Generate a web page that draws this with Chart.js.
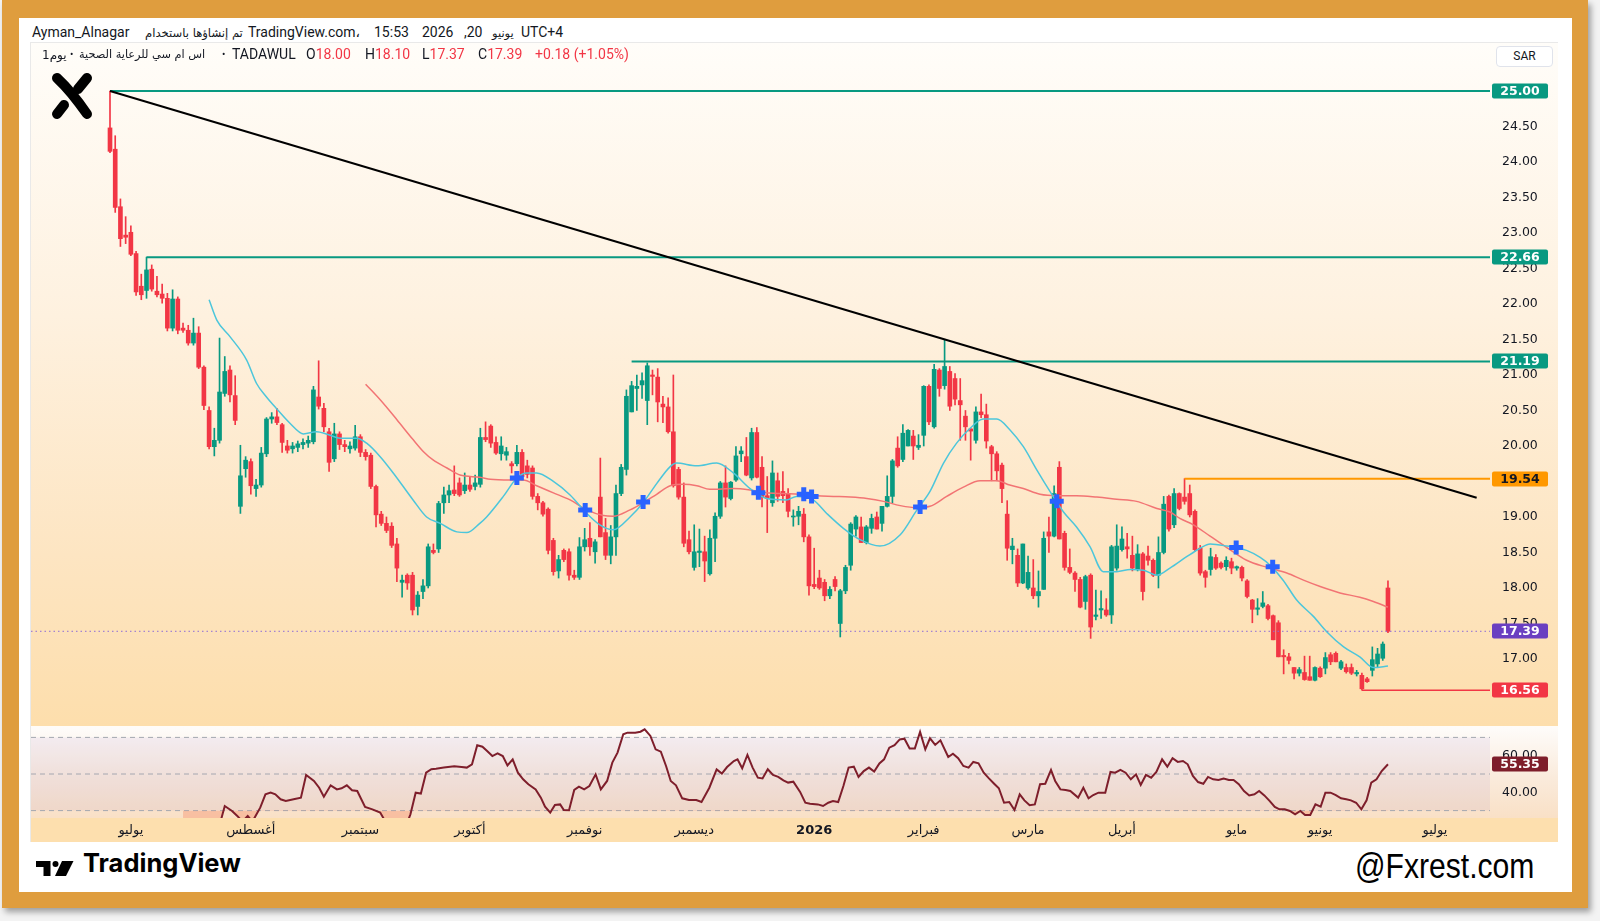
<!DOCTYPE html>
<html><head><meta charset="utf-8">
<script src="https://cdn.jsdelivr.net/npm/chart.js@4/dist/chart.umd.min.js"></script>
<style>
html,body{margin:0;padding:0;}
body{width:1600px;height:921px;position:relative;background:#f3f3f3;overflow:hidden;font-family:Roboto,'DejaVu Sans',sans-serif;color:#131722;}
#frame{position:absolute;left:2px;top:0;width:1586px;height:908px;background:#DF9D3E;box-shadow:3px 4px 6px rgba(0,0,0,0.35);}
#panel{position:absolute;left:19px;top:18px;width:1553px;height:874px;background:#fff;}
#box{position:absolute;left:30px;top:42px;width:1528px;height:800px;border:1px solid #E9E9E9;box-sizing:border-box;}
#mainWrap{position:absolute;left:31px;top:43px;width:1527px;height:683px;background:linear-gradient(180deg,#FFFDF9 0%,#FEF1DF 40%,#FDE5C2 75%,#FDDEAC 100%);}
#rsiWrap{position:absolute;left:31px;top:726px;width:1527px;height:116px;background:linear-gradient(180deg,#FEFCFA 0px,#FAEBDC 50px,#F9E0C6 91px,#FDDFAE 91px,#FDDFAE 116px);border-top:1px solid rgba(255,255,255,0.9);box-sizing:border-box;}
canvas{position:absolute;left:0;top:0;}
.t{position:absolute;white-space:nowrap;font-size:14px;line-height:16px;}
.ar{font-family:'DejaVu Sans',sans-serif;transform-origin:left center;}
.r{color:#F23645;}
#sar{position:absolute;left:1496px;top:46px;width:57px;height:21px;border:1px solid #E0E3EB;border-radius:4px;background:#fff;box-sizing:border-box;font-size:12px;line-height:19px;text-align:center;color:#131722;}
#tvtext{position:absolute;left:83px;top:848px;font-family:Inter,Roboto,sans-serif;font-weight:700;font-size:25.5px;line-height:30px;color:#000;}
#fx{position:absolute;left:1355px;top:846px;font-family:'Liberation Sans Narrow','Liberation Sans',sans-serif;font-size:35px;line-height:40px;color:#000;transform:scaleX(0.86);transform-origin:left center;}
</style></head>
<body>
<div id="frame"></div>
<div id="panel"></div>
<div id="box"></div>
<div id="mainWrap"><canvas id="main" width="1527" height="683"></canvas></div>
<div id="rsiWrap"><canvas id="rsi" width="1527" height="116"></canvas></div>

<!-- header line 1 -->
<div class="t" style="left:32px;top:24px;">Ayman_Alnagar</div>
<div class="t ar" style="left:145px;top:25px;font-size:11.6px;" dir="rtl">تم إنشاؤها باستخدام</div>
<div class="t" style="left:248px;top:24px;">TradingView.com،</div>
<div class="t" style="left:374px;top:24px;">15:53</div>
<div class="t" style="left:422px;top:24px;">2026</div>
<div class="t" style="left:464px;top:24px;">,20</div>
<div class="t ar" style="left:492px;top:25px;font-size:11.5px;" dir="rtl">يونيو</div>
<div class="t" style="left:521px;top:24px;">UTC+4</div>
<!-- header line 2 -->
<div class="t ar" style="left:42px;top:47px;font-size:12px;"><bdi dir="ltr">1يوم</bdi></div>
<div class="t" style="left:70px;top:47px;font-size:10px;">•</div>
<div class="t ar" style="left:79px;top:47px;font-size:11.3px;" dir="rtl">اس ام سي للرعاية الصحية</div>
<div class="t" style="left:222px;top:47px;font-size:10px;">•</div>
<div class="t" style="left:232px;top:46px;">TADAWUL</div>
<div class="t" style="left:306px;top:46px;">O<span class="r">18.00</span></div>
<div class="t" style="left:365px;top:46px;">H<span class="r">18.10</span></div>
<div class="t" style="left:422px;top:46px;">L<span class="r">17.37</span></div>
<div class="t" style="left:478px;top:46px;">C<span class="r">17.39</span></div>
<div class="t r" style="left:535px;top:46px;">+0.18 (+1.05%)</div>
<div id="sar">SAR</div>

<svg style="position:absolute;left:46px;top:68px;" width="54" height="56" viewBox="0 0 54 56">
  <g stroke="#000" stroke-width="10" stroke-linecap="round" fill="none">
    <path d="M11,10 Q25,23 41,46"/>
    <path d="M41,10 L32,21"/>
    <path d="M11,46 L18,37"/>
  </g>
</svg>

<svg style="position:absolute;left:36px;top:861px;" width="40" height="16" viewBox="0 0 40 16">
  <path d="M0,0 H14.5 V15 H7.5 V6 H0 Z" fill="#000"/>
  <circle cx="19.5" cy="3" r="3" fill="#000"/>
  <path d="M26,0 H37.5 L30,15 H19 Z" fill="#000"/>
</svg>
<div id="tvtext">TradingView</div>
<div id="fx">@Fxrest.com</div>

<script>
// ---------------- DATA ----------------
const opens = [24.48,24.18,23.37,22.97,23.01,22.71,22.25,22.19,22.49,22.18,
22.14,22.08,21.66,22.07,21.66,21.63,21.45,21.59,21.11,20.50,
19.99,20.08,20.74,21.07,20.71,19.15,19.68,19.78,19.40,19.45,
19.89,20.38,20.41,20.30,20.00,19.96,19.98,20.02,20.04,20.06,
20.69,20.53,20.20,19.82,20.17,20.02,19.96,19.97,20.13,19.91,
19.87,19.43,19.04,18.91,18.87,18.62,18.08,18.18,18.18,17.74,
17.95,18.03,18.53,18.55,19.20,19.31,19.38,19.48,19.37,19.45,
19.43,19.46,20.12,20.28,20.05,19.89,19.87,19.75,19.75,19.91,
19.72,19.69,19.29,19.20,19.11,18.67,18.24,18.53,18.51,18.18,
18.15,18.58,18.70,18.51,19.28,18.78,18.46,18.72,19.33,19.67,
20.48,20.81,20.86,20.64,21.00,20.97,20.59,20.55,20.20,19.67,
19.28,18.68,18.29,18.50,18.51,18.20,18.70,19.01,19.48,19.26,
19.52,19.89,19.85,19.55,20.19,19.70,19.30,19.20,19.51,19.36,
19.33,19.00,19.01,19.04,18.72,18.05,18.14,18.08,17.89,18.12,
17.50,17.96,18.32,18.83,18.86,18.64,18.84,19.00,18.91,19.15,
19.29,19.97,19.81,20.00,20.14,19.98,20.15,20.84,20.27,21.07,
20.85,21.05,20.95,20.64,20.42,20.24,20.08,20.48,20.44,19.99,
19.89,19.73,19.04,18.54,18.46,18.07,18.00,18.00,17.89,17.98,
18.79,18.73,19.70,18.77,18.29,18.21,18.12,17.81,18.18,17.60,
17.69,17.69,17.62,18.28,18.54,18.58,18.46,18.26,18.48,18.45,
18.39,18.18,18.50,19.29,18.89,19.33,19.28,19.33,19.08,18.56,
18.23,18.26,18.43,18.35,18.30,18.37,18.28,18.29,18.10,17.83,
17.70,17.74,17.75,17.61,17.51,17.05,17.03,16.88,16.80,16.81,
16.75,16.70,16.87,16.87,17.06,17.08,16.87,16.88,16.88,16.79,
16.77,16.72,16.84,16.93,17.01,18.00];
const highs = [25.00,24.37,23.48,23.23,23.10,22.74,22.42,22.66,22.55,22.39,
22.28,22.15,22.20,22.10,21.73,21.70,21.80,21.68,21.13,20.55,
20.25,21.52,21.26,21.13,20.99,20.01,19.85,19.82,19.53,19.98,
20.40,20.47,20.53,20.32,20.08,20.05,20.07,20.10,20.14,20.84,
21.20,20.60,20.25,20.32,20.20,20.08,20.06,20.29,20.16,19.95,
19.90,19.45,19.08,19.00,18.92,18.70,18.18,18.20,18.22,17.95,
18.12,18.62,18.62,19.22,19.42,19.45,19.72,19.55,19.62,19.57,
19.59,20.25,20.34,20.30,20.13,20.13,19.98,19.78,20.01,19.95,
19.80,19.72,19.33,19.22,19.13,18.70,18.46,18.55,18.55,18.25,
18.71,18.84,18.92,18.68,19.83,18.98,18.88,19.45,19.74,20.79,
20.91,21.00,21.03,21.17,21.07,21.09,20.70,20.68,21.00,19.70,
19.48,18.80,18.89,18.83,18.73,18.82,19.06,19.50,19.72,19.50,
19.99,19.99,20.12,20.25,20.26,19.85,19.57,19.79,19.62,19.64,
19.40,19.10,19.15,19.12,18.75,18.56,18.25,18.12,18.02,18.16,
17.98,18.32,18.92,19.02,19.00,18.88,19.04,19.07,19.15,19.58,
19.81,20.13,20.30,20.23,20.22,20.16,20.85,20.86,21.15,21.09,
21.50,21.12,21.02,20.95,20.50,20.25,20.55,20.73,20.59,20.01,
19.92,19.76,19.23,18.70,18.55,18.62,18.45,18.40,18.24,18.79,
19.00,19.44,19.78,18.80,18.55,18.23,18.15,18.18,18.20,17.97,
17.96,17.85,18.60,18.89,18.86,18.77,18.73,18.61,18.50,18.59,
18.41,18.72,19.29,19.31,19.40,19.34,19.54,19.45,19.10,18.60,
18.25,18.56,18.47,18.37,18.44,18.42,18.31,18.31,18.12,17.84,
17.85,17.95,17.77,17.62,17.54,17.13,17.08,16.88,16.88,17.04,
17.04,16.89,16.89,17.09,17.09,17.10,16.98,16.93,16.93,16.84,
16.80,16.74,17.17,17.15,17.24,18.10];
const lows = [24.13,23.29,22.81,22.85,22.68,22.12,22.06,22.08,22.18,22.10,
22.01,21.62,21.62,21.58,21.60,21.42,21.42,21.09,20.51,19.96,
19.86,20.04,20.70,20.62,20.30,19.05,19.56,19.32,19.29,19.42,
19.85,20.32,20.30,19.91,19.90,19.90,19.92,19.96,19.98,20.03,
20.52,20.20,19.64,19.78,19.95,19.92,19.90,19.94,19.85,19.80,
19.40,18.86,18.88,18.78,18.57,18.09,17.87,17.98,17.62,17.62,
17.85,18.00,18.48,18.50,19.05,19.20,19.30,19.29,19.33,19.36,
19.38,19.42,20.06,19.98,19.88,19.80,19.80,19.62,19.72,19.52,
19.55,19.25,19.10,19.01,18.48,18.18,18.14,18.37,18.11,18.12,
18.12,18.52,18.46,18.35,18.72,18.40,18.34,18.46,19.30,19.59,
20.48,20.50,20.67,20.30,20.72,20.34,20.33,20.18,19.42,19.25,
18.58,18.48,18.25,18.30,18.09,18.18,18.37,18.98,19.14,19.24,
19.50,19.78,19.58,19.52,19.55,19.14,18.78,19.15,19.22,19.20,
19.00,18.87,18.89,18.65,17.90,17.99,17.98,17.82,17.85,17.96,
17.31,17.92,18.25,18.73,18.64,18.62,18.77,18.83,18.80,19.14,
19.20,19.70,19.78,20.00,19.81,19.95,20.00,20.30,20.25,20.70,
20.80,20.50,20.58,20.08,20.08,19.80,20.04,20.40,19.97,19.51,
19.51,19.20,18.39,18.34,18.02,18.06,17.98,17.85,17.73,17.98,
18.50,18.72,18.69,18.25,18.20,17.95,17.72,17.70,17.29,17.55,
17.57,17.60,17.50,18.25,18.52,18.42,18.24,18.24,17.83,18.32,
18.16,18.00,18.48,18.80,18.85,19.10,19.18,19.00,18.52,18.18,
18.01,18.18,18.26,18.27,18.25,18.20,18.25,18.10,17.86,17.51,
17.62,17.72,17.55,17.27,17.03,16.79,16.93,16.72,16.76,16.70,
16.70,16.69,16.74,16.79,16.92,16.96,16.85,16.80,16.78,16.76,
16.56,16.67,16.76,16.88,16.98,17.37];
const closes = [24.15,23.36,22.92,22.94,22.70,22.17,22.13,22.48,22.21,22.13,
22.08,21.66,22.07,21.63,21.63,21.45,21.59,21.11,20.57,19.99,
20.08,20.76,21.05,20.72,20.36,19.58,19.80,19.44,19.45,19.90,
20.38,20.41,20.33,20.05,19.94,20.00,20.03,20.05,20.08,20.79,
20.56,20.27,19.77,20.17,20.02,19.99,20.00,20.13,19.91,19.85,
19.43,19.03,18.91,18.81,18.60,18.28,18.11,18.07,17.69,17.90,
18.03,18.58,18.50,19.19,19.31,19.37,19.33,19.31,19.45,19.39,
19.48,20.12,20.09,20.04,19.90,20.00,19.92,19.72,19.91,19.57,
19.60,19.29,19.20,19.04,18.53,18.23,18.40,18.40,18.18,18.15,
18.58,18.68,18.58,18.65,18.72,18.46,18.72,19.33,19.70,20.70,
20.85,20.84,20.92,21.13,20.98,20.62,20.55,20.20,19.44,19.28,
18.63,18.51,18.51,18.52,18.38,18.70,19.01,19.48,19.28,19.49,
19.86,19.93,19.59,20.19,19.56,19.28,19.26,19.62,19.29,19.30,
19.08,19.01,19.08,18.72,18.03,18.02,18.00,17.89,17.98,18.02,
17.96,18.29,18.90,19.00,18.64,18.86,18.98,18.83,19.15,19.29,
19.79,19.72,20.18,20.22,20.00,20.01,20.84,20.34,21.08,20.81,
21.12,20.56,20.66,20.58,20.27,20.21,20.48,20.44,20.07,19.89,
19.65,19.40,18.56,18.59,18.07,18.62,18.22,17.89,17.95,18.70,
18.73,19.33,18.69,18.29,18.22,18.12,17.73,18.16,17.45,17.62,
17.71,17.62,18.58,18.59,18.69,18.55,18.28,18.48,17.95,18.39,
18.18,18.50,19.18,18.83,19.33,19.12,19.22,19.03,18.54,18.21,
18.15,18.44,18.28,18.29,18.39,18.28,18.30,18.14,17.88,17.70,
17.72,17.79,17.57,17.27,17.03,17.03,16.98,16.80,16.85,16.71,
16.70,16.88,16.75,17.02,16.96,16.96,16.96,16.82,16.80,16.81,
16.58,16.68,16.99,17.07,17.21,17.39];

// moving averages (bar index, price)
const smaFastIdx = [19,20.5,23,26.2,28.1,30,32,34.5,37.1,39.6,41.5,44.1,47.3,49.2,51.8,54.3,58.1,60.7,63.3,66.5,68.4,70.9,72.2,75.4,78,79.9,81.8,85,88.2,91.4,93.9,96.5,99.7,102.2,104.8,107.4,108.6,112.5,116.3,119.5,122.7,125.9,129.7,131.6,134.8,137.4,140.6,143.8,147.6,151.5,154.7,157.2,159.8,162.3,164.9,167.4,170,172.5,175.1,177.7,180.2,182.8,185.3,187.9,190.4,193,195.6,198.1,200.7,203.2,206.4,209,210.9,214.1,217.9,220.5,222.4,224.9,227.5,230.7,233.3,236.5,239.6,242.2,245];
const smaFastVal = [22.06,21.77,21.54,21.21,20.88,20.69,20.52,20.32,20.17,20.20,20.17,20.11,20.11,20.04,19.85,19.62,19.24,19.00,18.91,18.79,18.78,18.91,19.00,19.29,19.55,19.62,19.62,19.50,19.31,19.05,18.89,18.82,19.00,19.20,19.47,19.71,19.76,19.72,19.76,19.62,19.40,19.26,19.24,19.29,19.24,19.05,18.84,18.68,18.59,18.75,19.10,19.36,19.76,20.04,20.25,20.38,20.38,20.23,19.99,19.66,19.36,19.07,18.86,18.58,18.23,18.23,18.26,18.25,18.18,18.28,18.44,18.56,18.62,18.59,18.53,18.43,18.32,18.11,17.83,17.60,17.38,17.17,17.03,16.88,16.90];
const smaSlowIdx = [49,51.8,55,58.1,60.1,62,64.6,67.1,70.9,72.9,76.7,79.2,81.8,85,88.2,91.4,94.6,96.5,99.7,102.2,104.8,107.4,109.9,112.5,115,119.5,122.7,125.9,129.1,132.3,135.5,138.7,141.9,145.1,148.3,151.5,154.7,157.2,160.4,163.6,166.8,170,172.5,175.1,178.3,181.5,185.3,189.2,193,196.8,200.7,203.2,205.1,207.7,210.9,214.1,217.9,221.8,225.6,228.8,232,235.8,239.6,242.2,245];
const smaSlowVal = [20.87,20.65,20.37,20.09,19.92,19.80,19.69,19.59,19.56,19.53,19.52,19.52,19.44,19.34,19.24,19.10,19.02,19.01,19.10,19.20,19.32,19.44,19.46,19.44,19.39,19.40,19.38,19.34,19.33,19.32,19.30,19.29,19.28,19.26,19.22,19.16,19.13,19.15,19.29,19.42,19.51,19.51,19.45,19.40,19.32,19.30,19.30,19.28,19.25,19.22,19.12,19.07,18.98,18.89,18.73,18.57,18.39,18.29,18.21,18.11,18.02,17.93,17.87,17.81,17.73];
// crossover markers
const crossIdx = [78,91.1,102.2,124.3,133,134.5,155.3,181.5,215.9,222.9];
const crossVal = [19.55,19.10,19.21,19.34,19.32,19.29,19.14,19.22,18.57,18.30];

// drawings
const levelValues = [25.00, 22.66, 21.19, 19.54, 16.56];
const levelStartBar = [0, 7, 100, 206, 240];
const trendBars = [0, 262];
const trendPrices = [25.00, 19.27];
const lastPrice = 17.39;

// RSI (bar index, value)
const rsiIdx = [14,15,16,17,18,19,20,21,22,23.4,24.4,25.4,26.4,27.3,28.8,29.8,30.8,31.7,32.7,33.7,35.2,36.6,37.6,39.1,40.1,41,42.3,43.5,44.4,45.4,46.4,47.4,48.9,50.3,51.8,52.8,54.2,56.2,57.2,57.6,58.6,59.6,60.6,61.6,62.5,64,66,67.4,68.4,69.4,70.4,71.4,72.3,73.3,74.3,75.3,76.2,77.2,78.2,79.2,80.2,81.6,82.6,83.4,84.4,85.3,86.3,87,88,89,89.9,90.9,91.9,93.1,94.1,95.3,96.3,97.3,98.4,99.2,100.7,101.7,102.5,103.6,104.6,105.6,106.6,107.5,108.5,109.7,111,112.4,113.4,114.9,116.3,117.3,118.3,119.6,120.3,121.2,122.2,123.2,124.2,125.1,126.1,127.1,128.1,129.1,130,131,132.3,133.3,134.2,135.7,136.7,137.7,138.6,139.6,140.6,141.6,142.6,143.5,144.5,145.5,146.5,147.5,148.4,149.4,150.4,151.4,152.3,153.3,154.3,155.3,156.3,157.2,158.2,159.2,160.7,161.6,162.6,163.6,164.6,165.5,166.5,167.5,168.5,169.5,170.4,171.4,172.4,173.4,174.4,175.3,176.3,177.3,178.3,179.3,180.4,181.2,182.2,183.2,184.1,185.6,186.6,187.6,188.5,189.5,190.8,191.8,192.7,193.7,194.7,195.7,196.7,197.6,198.6,199.6,200.6,201.7,202.7,203.7,204.7,205.7,206.6,207.6,208.6,209.6,210.5,211.5,212.5,213.5,214.5,215.4,216.4,217.4,218.4,219.4,220.3,221.3,222.3,223.3,224.2,225.2,226.2,227.2,228.2,229.1,230.1,231.1,232.1,233,234,235,236,237,237.9,238.9,239.9,240.9,241.8,242.8,243.8,245];
const rsiVal = [20,18,21,16,12,9,12,22,32.5,29.8,27.1,24,27.1,24,31.6,38.9,39.8,38.9,36.2,35.3,36.2,37.1,49.5,46.2,42.5,37.6,43.8,41.6,42.2,43.8,41.1,40.7,32,30.7,28.9,24,21,22,25,28,39.8,39.3,50.7,52.6,52.9,53.5,54.2,53.8,53.5,55.3,65.7,64.9,62.6,59.8,61.3,59.8,54.7,58,50.7,47.1,44.4,41.6,37.1,32.2,28.9,33.1,33.4,30.3,30.2,41.3,43.1,41.6,43.4,49.8,41.6,46.2,56.2,61.7,71.7,72.6,72.6,73.1,74.4,70.8,63.5,62.2,54.4,46.2,43.8,36.7,35.8,35.8,34.7,42.5,52.5,50.2,53.8,57.1,58,53.1,60.4,53.5,48,47.6,52.6,49.5,48.4,46.5,45.3,45.8,40.2,34.3,33.8,33.4,32.5,34.3,35.2,34.7,43.4,53.5,54,48.4,51.6,53.5,51.3,55.8,58,64.4,65.8,68.9,69.3,64,64,73,63.5,69.5,65.9,68.4,59.3,61.1,58.6,54.4,53.5,56.6,55.8,50.7,47.6,44.7,42.2,34.3,34.7,30.3,38.9,35.6,32.9,33.4,44.4,44.7,52.2,46.2,41.6,41.3,40.7,37.1,42.5,36.7,38.5,39.8,39.8,51.1,50.7,52.2,50.7,47.1,49.8,44,49.5,48,51.1,58,54,58.6,56.6,57.1,55.3,48.9,45.6,44.7,48.4,47.1,46.7,47.5,46.7,46.7,44.4,40.7,38.3,38.9,40.7,38.3,35.3,32,30.7,30.7,29.8,28,29.8,27.6,27.6,33.4,32.2,39.8,39.8,38.5,36.7,36.2,35.6,34.3,30.7,35.6,45.3,47.1,51.6,55.35];
const rsiLevels = [70, 50, 30];
const rsiTicks = [40, 60];

// axis tick labels
const priceTicks = [17,17.5,18,18.5,19,19.5,20,20.5,21,21.5,22,22.5,23,23.5,24,24.5,25,25.5];
const monthTickIdx = [4,27,48,69,91,112,135,156,176,194,216,232,254];
const monthTickLabels = ['يوليو','أغسطس','سبتمبر','أكتوبر','نوفمبر','ديسمبر','2026','فبراير','مارس','أبريل','مايو','يونيو','يوليو'];

// ---------------- CHART ----------------
const GREEN = '#089981', RED = '#F23645';
const X_MIN = -15.145, X_MAX = 264.56;
const Y_MIN = 16.056, Y_MAX = 25.676;
const RSI_MIN = 25.96, RSI_MAX = 75.68;
const FONT = "'DejaVu Sans', sans-serif";
Chart.defaults.font.family = FONT;
Chart.defaults.animation = false;

const pts = (xs, ys) => xs.map((x, i) => ({x: x, y: ys[i]}));
const barColors = closes.map((c, i) => c >= opens[i] ? GREEN : RED);
const bodyData = closes.map((c, i) => ({x: i, y: [Math.min(opens[i], c), Math.max(opens[i], c)]}));
const wickData = closes.map((c, i) => ({x: i, y: [lows[i], highs[i]]}));
const levelColors = ['#089981', '#089981', '#089981', '#FF9800', '#F23645'];
const levelWidths = [2, 2, 2, 2, 1.5];

const labelBoxes = {
  id: 'labelBoxes',
  afterDraw(chart, args, opts) {
    const ctx = chart.ctx, y = chart.scales.y, ca = chart.chartArea;
    (opts.items || []).forEach(it => {
      const py = Math.round(y.getPixelForValue(it.value));
      const x0 = ca.right + 2, w = 56, h = 15;
      ctx.save();
      ctx.fillStyle = it.bg;
      ctx.beginPath();
      ctx.roundRect(x0, py - h / 2, w, h, 2);
      ctx.fill();
      ctx.fillStyle = it.fg;
      ctx.font = 'bold 12.5px ' + FONT;
      ctx.textAlign = 'center';
      ctx.textBaseline = 'middle';
      ctx.fillText(it.value.toFixed(2), x0 + w / 2, py + 0.5);
      ctx.restore();
    });
  }
};

const rsiBand = {
  id: 'rsiBand',
  beforeDatasetsDraw(chart) {
    const ctx = chart.ctx, y = chart.scales.y, ca = chart.chartArea;
    const t = y.getPixelForValue(rsiLevels[0]), b = y.getPixelForValue(rsiLevels[2]);
    ctx.save();
    ctx.fillStyle = 'rgba(126,87,194,0.08)';
    ctx.fillRect(ca.left, t, ca.right - ca.left, b - t);
    ctx.restore();
  }
};

const fitY = s => { s.width = 68; s.paddingTop = 0; s.paddingBottom = 0; };

const mainDatasets = [
  {type: 'line', data: pts(crossIdx, crossVal), showLine: false, pointStyle: 'cross', pointRadius: 7, pointBorderWidth: 5, pointBorderColor: '#2962FF', pointBackgroundColor: '#2962FF', order: 0},
  {type: 'line', data: pts(trendBars, trendPrices), borderColor: '#000', borderWidth: 2, pointRadius: 0, order: 1},
  {type: 'line', data: [{x: X_MIN, y: lastPrice}, {x: X_MAX, y: lastPrice}], borderColor: '#8C6AD6', borderWidth: 1, borderDash: [1.5, 3], pointRadius: 0, order: 1}
];
levelValues.forEach((v, k) => mainDatasets.push({type: 'line', data: [{x: levelStartBar[k], y: v}, {x: X_MAX, y: v}], borderColor: levelColors[k], borderWidth: levelWidths[k], pointRadius: 0, order: 1}));
mainDatasets.push(
  {type: 'line', data: pts(smaFastIdx, smaFastVal), borderColor: '#4CC6DB', borderWidth: 1.5, pointRadius: 0, cubicInterpolationMode: 'monotone', order: 2},
  {type: 'line', data: pts(smaSlowIdx, smaSlowVal), borderColor: '#F27474', borderWidth: 1.5, pointRadius: 0, cubicInterpolationMode: 'monotone', order: 2},
  {type: 'bar', data: bodyData, backgroundColor: barColors, barThickness: 4, grouped: false, minBarLength: 1, order: 3},
  {type: 'bar', data: wickData, backgroundColor: barColors, barThickness: 1, grouped: false, order: 4}
);

new Chart(document.getElementById('main'), {
  type: 'bar',
  data: {datasets: mainDatasets},
  options: {
    responsive: false, animation: false, events: [],
    layout: {padding: 0, autoPadding: false},
    plugins: {
      legend: {display: false}, tooltip: {enabled: false},
      labelBoxes: {items: [
        {value: levelValues[0], bg: '#089981', fg: '#fff'},
        {value: levelValues[1], bg: '#089981', fg: '#fff'},
        {value: levelValues[2], bg: '#089981', fg: '#fff'},
        {value: levelValues[3], bg: '#FF9800', fg: '#131722'},
        {value: lastPrice, bg: '#6A3FC1', fg: '#fff'},
        {value: levelValues[4], bg: '#F23645', fg: '#fff'}
      ]}
    },
    scales: {
      x: {type: 'linear', min: X_MIN, max: X_MAX, display: false, offset: false},
      y: {type: 'linear', position: 'right', min: Y_MIN, max: Y_MAX,
          grid: {display: false, drawTicks: false}, border: {display: false},
          afterBuildTicks: s => { s.ticks = priceTicks.map(v => ({value: v})); },
          ticks: {color: '#131722', font: {size: 12.5}, padding: 12, callback: v => Number(v).toFixed(2)},
          afterFit: fitY}
    }
  },
  plugins: [labelBoxes]
});

const rsiDatasets = [
  {type: 'line', data: pts(rsiIdx, rsiVal), borderColor: '#7E1E2B', borderWidth: 2, pointRadius: 0,
   fill: {target: {value: 30}, above: 'rgba(0,0,0,0)', below: 'rgba(247,120,80,0.32)'}, order: 1}
];
rsiLevels.forEach(v => rsiDatasets.push({type: 'line', data: [{x: X_MIN, y: v}, {x: X_MAX, y: v}], borderColor: '#A4A7B0', borderWidth: 1, borderDash: [5, 4], pointRadius: 0, order: 2}));

new Chart(document.getElementById('rsi'), {
  type: 'line',
  data: {datasets: rsiDatasets},
  options: {
    responsive: false, animation: false, events: [],
    layout: {padding: 0, autoPadding: false},
    plugins: {legend: {display: false}, tooltip: {enabled: false},
      labelBoxes: {items: [{value: rsiVal[rsiVal.length - 1], bg: '#7E1E2B', fg: '#fff'}]}},
    scales: {
      x: {type: 'linear', min: X_MIN, max: X_MAX, offset: false,
          grid: {display: false, drawTicks: false}, border: {display: false},
          afterBuildTicks: s => { s.ticks = monthTickIdx.map(v => ({value: v})); },
          ticks: {autoSkip: false, maxRotation: 0, minRotation: 0, padding: 5, color: '#131722',
                  font: c => ({size: 13, family: FONT, weight: monthTickLabels[c.index] === '2026' ? 'bold' : 'normal'}),
                  callback: (v, i) => monthTickLabels[i]},
          afterFit: s => { s.height = 25; s.paddingLeft = 0; s.paddingRight = 0; }},
      y: {type: 'linear', position: 'right', min: RSI_MIN, max: RSI_MAX,
          grid: {display: false, drawTicks: false}, border: {display: false},
          afterBuildTicks: s => { s.ticks = rsiTicks.map(v => ({value: v})); },
          ticks: {color: '#131722', font: {size: 12.5}, padding: 12, callback: v => Number(v).toFixed(2)},
          afterFit: fitY}
    }
  },
  plugins: [rsiBand, labelBoxes]
});
</script>
</body></html>
